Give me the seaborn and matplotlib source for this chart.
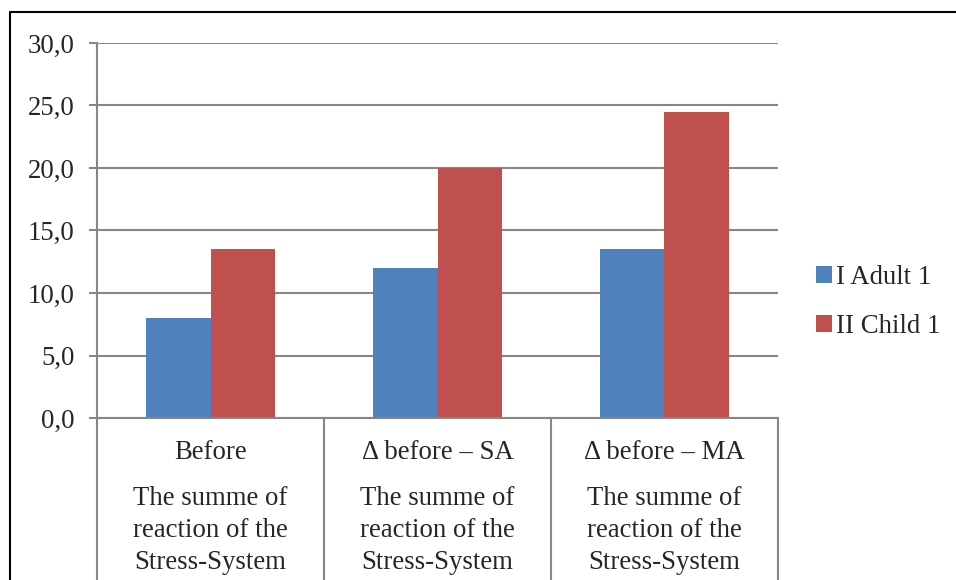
import matplotlib.pyplot as plt
import matplotlib.transforms as mtransforms
from matplotlib.lines import Line2D
import pandas as pd
import seaborn as sns

# Data
groups = ["Before", "\u0394 before \u2013 SA", "\u0394 before \u2013 MA"]
subtitle = "The summe of\nreaction of the\nStress-System"
series = ["I Adult 1", "II Child 1"]
adult = [8.0, 12.0, 13.5]
child = [13.5, 20.0, 24.5]
yticks = [0, 5, 10, 15, 20, 25, 30]

df = pd.DataFrame({
    "group": groups * 2,
    "series": [series[0]] * 3 + [series[1]] * 3,
    "value": adult + child,
})

sns.set_style("white")
plt.rcParams["font.family"] = ["Liberation Serif", "DejaVu Serif"]
fs = 19.3

fig = plt.figure(figsize=(9.56, 5.8), dpi=100)
ax = fig.add_axes([0.1015, 0.2793, 0.7123, 0.6466])

sns.barplot(data=df, x="group", y="value", hue="series", order=groups,
            hue_order=series, palette=["#4F81BD", "#C0504D"],
            width=0.57, gap=0, saturation=1, linewidth=0, edgecolor="none",
            ax=ax, legend=True)

ax.set_ylim(0, 30)
ax.set_yticks(yticks)
ax.set_yticklabels([f"{v:.1f}".replace(".", ",") for v in yticks], fontsize=fs)
ax.set_xlim(-0.5, len(groups) - 0.5)
ax.set_xticks([])
ax.set_xlabel("")
ax.set_ylabel("")
ax.yaxis.grid(True, color="#868686", linewidth=1.5)
ax.set_axisbelow(True)
ax.tick_params(axis="y", length=6, width=1.5, color="#868686", left=True, pad=10)
for side in ["top", "right", "bottom"]:
    ax.spines[side].set_visible(False)
ax.spines["left"].set_color("#868686")
ax.spines["left"].set_linewidth(1.5)
ax.axhline(0, color="#868686", linewidth=1.5, clip_on=False)

# category separators extending below the axis
trans = mtransforms.blended_transform_factory(ax.transData, ax.transAxes)
for b in [x - 0.5 for x in range(len(groups) + 1)]:
    ax.plot([b, b], [0, -0.45], transform=trans, color="#868686",
            linewidth=1.5, clip_on=False)

for i, g in enumerate(groups):
    ax.text(i, -0.093, g, transform=trans, ha="center", va="center", fontsize=fs)
    ax.text(i, -0.30, subtitle, transform=trans, ha="center", va="center",
            fontsize=fs, linespacing=1.38)

leg = ax.legend(loc="center left", bbox_to_anchor=(1.02, 0.31), frameon=False,
                fontsize=fs, handlelength=0.6, handleheight=0.6,
                handletextpad=0.15, labelspacing=0.9)

# outer chart border (top and left visible)
fig.add_artist(Line2D([0.0105, 1.0], [0.979, 0.979], color="black", linewidth=1.5))
fig.add_artist(Line2D([0.0105, 0.0105], [0.0, 0.979], color="black", linewidth=1.5))

fig.savefig("out.png", dpi=100)
